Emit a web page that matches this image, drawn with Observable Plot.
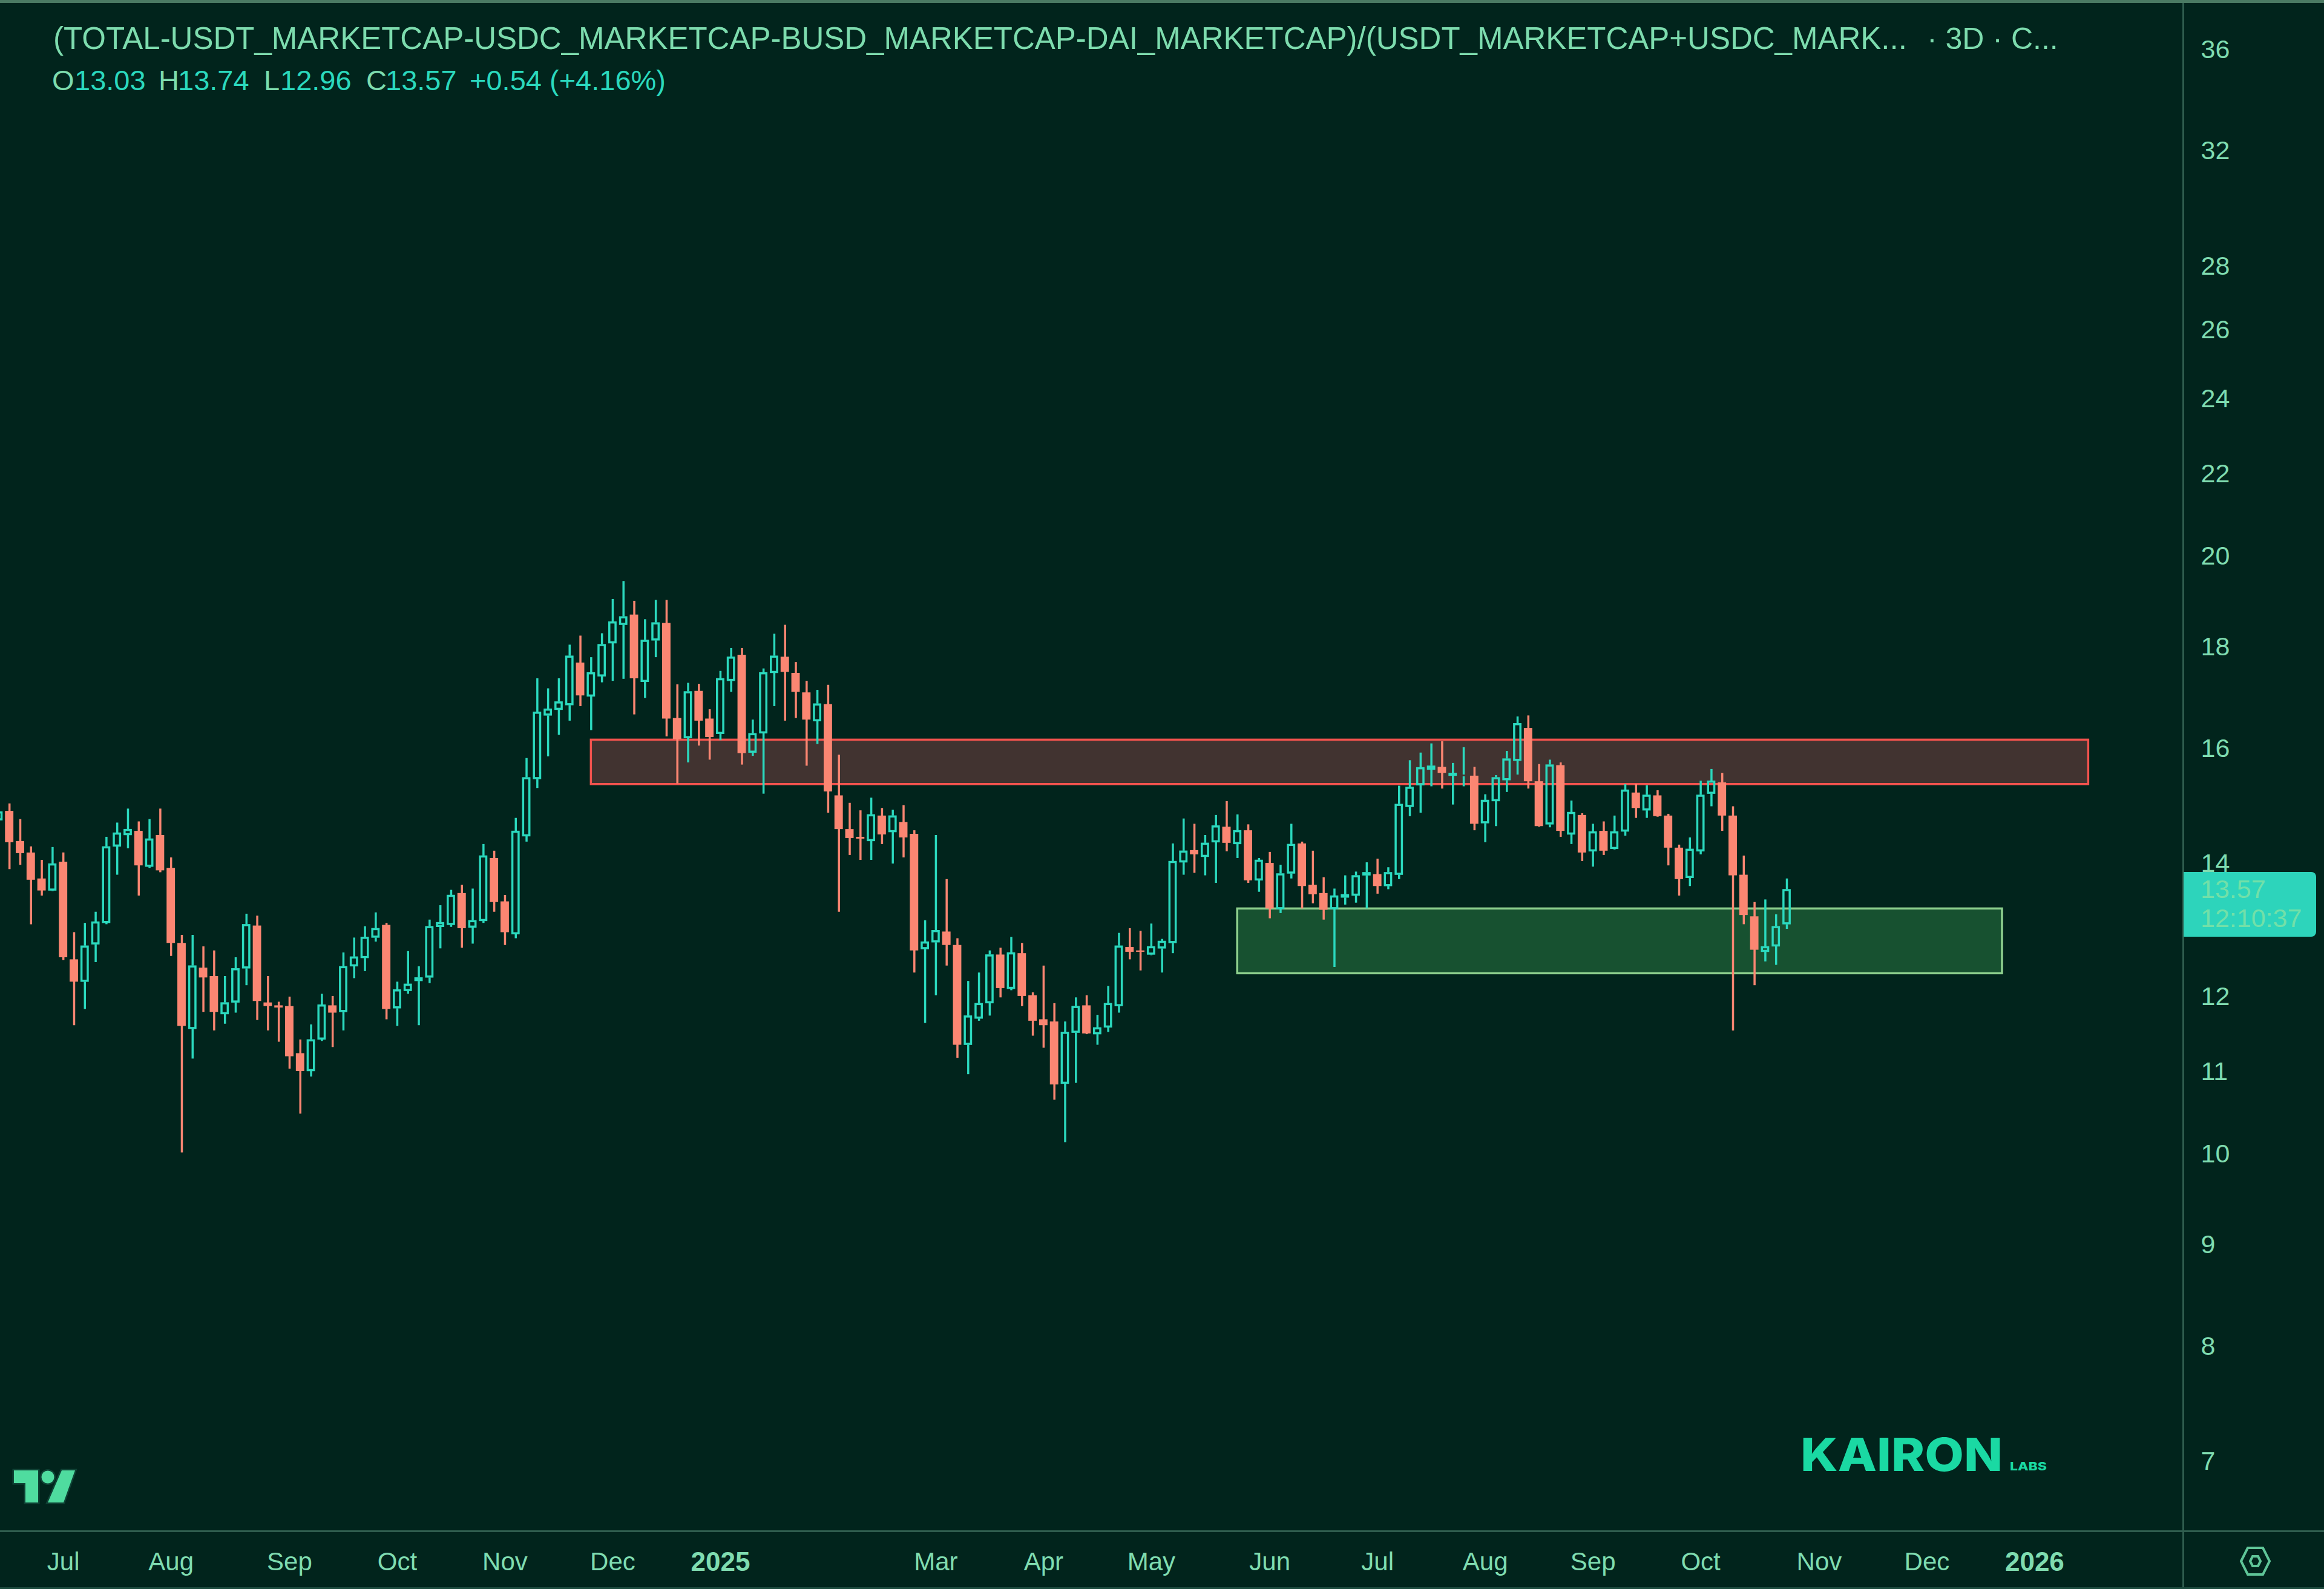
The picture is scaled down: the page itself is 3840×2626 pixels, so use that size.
<!doctype html>
<html>
<head>
<meta charset="utf-8">
<script src="https://cdn.jsdelivr.net/npm/d3@7"></script>
<script src="https://cdn.jsdelivr.net/npm/@observablehq/plot@0.6"></script>
<style>
html,body{margin:0;padding:0;background:#01241c;}
#page{position:relative;width:3840px;height:2626px;overflow:hidden;background:#01241c;font-family:"Liberation Sans",sans-serif;}
#page svg{display:block;}
.abs{position:absolute;white-space:pre;}
</style>
</head>
<body>
<div id="page"></div>
<script>
// Direction of each three-day bar: T = rising (hollow), S = falling (filled)
const directions = (
  "TSSSSTSSTT" + "TTTSTSSSTS" + "STTTSSSSST" + "TSTTTTSTTT" + "TTTSTTSSTT" +
  "TTTTSTTTTS" + "TTSSTSSTTS" + "TTTSSSTSSS" + "STSTSSTTSS" + "TTTSTSSSST" +
  "TSTTTSSTTT" + "TSTTSTSTST" + "TSSSTTTTST" + "TTTTSTTSTT" + "TTSSTSTSTS" +
  "TTSTSSSTTT" + "SSSSTTT").split("");

const highs = [
  14.92,14.99,14.72,14.26,14.04,14.25,14.16,12.91,13.05,13.22,
  14.42,14.66,14.90,14.68,14.72,14.90,14.08,12.87,12.87,12.70,
  12.64,12.27,12.54,13.19,13.16,12.27,11.91,11.98,11.40,11.60,
  12.02,11.99,12.61,12.83,13.00,13.21,13.05,12.19,12.63,12.41,
  13.10,13.32,13.56,13.64,13.58,14.30,14.19,13.48,14.74,15.80,
  17.33,17.13,17.33,18.02,18.21,17.76,18.26,19.00,19.40,18.96,
  18.56,18.98,18.98,17.21,17.24,17.22,16.72,17.48,17.95,17.95,
  16.52,17.53,18.25,18.44,17.66,17.28,17.10,17.20,15.86,15.00,
  14.87,15.09,14.91,14.88,14.96,14.53,13.09,14.45,13.73,12.82,
  12.20,12.32,12.64,12.68,12.84,12.75,12.04,12.42,11.89,11.64,
  11.97,12.00,11.73,12.13,12.90,12.97,12.93,13.04,12.81,14.31,
  14.73,14.64,14.45,14.79,15.03,14.80,14.63,14.07,14.17,13.96,
  14.64,14.34,14.19,13.76,13.58,13.79,13.85,14.00,14.06,13.92,
  15.30,15.76,15.90,16.07,16.11,15.71,16.00,15.64,15.15,15.49,
  15.93,16.58,16.60,15.69,15.77,15.72,15.04,14.82,14.64,14.68,
  14.78,15.33,15.33,15.31,15.22,14.81,14.29,14.41,15.39,15.60,
  15.53,14.94,14.11,13.37,13.41,13.18,13.74];

const bodyTops = [
  14.85,14.86,14.35,14.16,13.74,13.98,14.01,12.51,12.71,13.07,
  14.26,14.49,14.55,14.52,14.39,14.45,13.91,12.75,12.42,12.39,
  12.27,11.90,12.38,13.03,13.01,11.90,11.86,11.85,11.22,11.40,
  11.87,11.86,12.41,12.55,12.84,12.97,13.02,12.08,12.16,12.25,
  13.00,13.06,13.48,13.51,13.09,14.11,14.07,13.38,14.52,15.45,
  16.67,16.73,16.87,17.79,17.65,17.45,18.03,18.51,18.62,18.66,
  18.12,18.49,18.48,16.55,17.07,17.08,16.54,17.33,17.77,17.81,
  16.26,17.45,17.79,17.77,17.44,17.05,16.83,16.82,15.13,14.55,
  14.42,14.80,14.78,14.78,14.67,14.47,12.77,12.94,12.92,12.72,
  11.72,11.89,12.58,12.58,12.61,12.60,12.00,11.67,11.64,11.50,
  11.85,11.86,11.56,11.89,12.71,12.69,12.64,12.70,12.78,14.02,
  14.19,14.20,14.32,14.61,14.59,14.53,14.53,14.04,13.99,13.82,
  14.30,14.31,13.64,13.51,13.47,13.49,13.79,13.84,13.81,13.84,
  14.98,15.28,15.63,15.66,15.64,15.53,15.50,15.48,15.05,15.45,
  15.79,16.45,16.36,15.38,15.68,15.67,14.84,14.79,14.51,14.52,
  14.51,15.23,15.18,15.14,15.13,14.78,14.24,14.22,15.14,15.39,
  15.36,14.78,13.80,13.15,12.70,13.00,13.57];

const bodyBottoms = [
  14.70,14.33,14.15,13.72,13.55,13.55,12.54,12.19,12.19,12.73,
  13.05,14.26,14.45,13.95,13.93,13.87,12.75,11.58,11.54,12.25,
  11.77,11.74,11.90,12.38,11.92,11.85,11.83,11.18,10.99,10.99,
  11.40,11.76,11.77,12.41,12.53,12.83,11.81,11.82,12.06,12.20,
  12.25,12.99,13.02,12.97,12.98,13.08,13.37,12.91,12.88,14.43,
  15.42,16.60,16.71,16.80,16.99,16.97,17.37,18.05,18.44,17.33,
  17.26,18.11,16.54,16.15,16.17,16.50,16.19,16.25,17.28,15.89,
  15.90,16.26,17.44,17.46,17.06,16.52,16.49,15.20,14.55,14.40,
  14.39,14.35,14.46,14.50,14.41,12.64,12.66,12.76,12.72,11.33,
  11.33,11.68,11.89,12.10,12.09,11.99,11.65,11.59,10.82,10.83,
  11.49,11.48,11.47,11.56,11.85,12.62,12.62,12.58,12.67,12.75,
  14.00,14.13,14.09,14.33,14.32,14.30,13.71,13.71,13.27,13.26,
  13.82,13.62,13.49,13.25,13.26,13.44,13.47,13.79,13.62,13.62,
  13.80,14.93,15.31,15.59,15.53,15.48,15.47,14.64,14.65,15.03,
  15.40,15.75,15.38,14.60,14.63,14.52,14.46,14.16,14.18,14.19,
  14.22,14.51,14.91,14.87,14.77,14.24,13.73,13.75,14.18,15.16,
  14.78,13.79,13.17,12.65,12.62,12.70,13.03];

const lows = [
  14.64,13.89,13.96,13.03,13.47,13.54,12.50,11.59,11.81,12.47,
  13.03,13.80,14.23,13.47,13.91,13.84,12.56,10.00,11.15,11.77,
  11.52,11.61,11.76,12.14,11.66,11.52,11.37,11.02,10.46,10.92,
  11.38,11.30,11.52,12.24,12.34,12.77,11.67,11.58,12.02,11.59,
  12.17,12.67,12.99,12.68,12.74,13.05,13.22,12.72,12.82,14.34,
  15.26,15.83,16.23,16.50,16.78,16.32,17.25,17.28,17.32,16.62,
  16.94,17.76,16.20,15.34,15.72,16.03,15.77,16.13,17.06,15.68,
  15.84,15.16,16.78,16.50,16.55,15.66,16.06,14.83,13.22,14.12,
  14.04,14.04,14.30,13.98,14.08,12.32,11.62,12.00,12.42,11.16,
  10.95,11.65,11.72,11.97,12.07,11.85,11.45,11.29,10.63,10.12,
  10.84,11.47,11.33,11.50,11.76,12.51,12.35,12.57,12.32,12.60,
  13.80,13.83,13.79,13.67,14.18,14.07,13.67,13.53,13.12,13.20,
  13.74,13.27,13.35,13.10,12.40,13.33,13.36,13.27,13.50,13.57,
  13.73,14.77,14.83,15.29,15.25,14.97,15.29,14.53,14.33,14.60,
  15.19,15.50,15.25,14.59,14.58,14.42,14.30,14.02,13.93,14.12,
  14.21,14.44,14.74,14.74,14.76,13.95,13.47,13.62,14.13,14.94,
  14.52,11.52,13.03,12.14,12.48,12.43,12.96];

const priceTicks = [7,8,9,10,11,12,14,16,18,20,22,24,26,28,32,36];
const monthBars = [6,16,27,37,47,57,87,97,107,118,128,138,148,158,169,179];
const monthLabels = ["Jul","Aug","Sep","Oct","Nov","Dec","Mar","Apr","May","Jun","Jul","Aug","Sep","Oct","Nov","Dec"];
const yearBars = [67,189];
const yearLabels = ["2025","2026"];

const resistanceZone = {start:55,end:194,top:16.14,bottom:15.33};
const supportZone = {start:115,end:186,top:13.27,bottom:12.31};

const titleText = "(TOTAL-USDT_MARKETCAP-USDC_MARKETCAP-BUSD_MARKETCAP-DAI_MARKETCAP)/(USDT_MARKETCAP+USDC_MARK...";
const titleSuffix = "· 3D · C...";
const ohlc = [["O","13.03"],["H","13.74"],["L","12.96"],["C","13.57"]];
const changeText = "+0.54 (+4.16%)";
const lastPrice = "13.57";
const countdown = "12:10:37";

const UP = "#2bd9be", DOWN = "#fb8672", INK = "#7fdcb0", LINE = "#2f5d4e";

const bars = directions.map((d,i)=>({i,rising:d==="T",high:highs[i],top:bodyTops[i],bottom:bodyBottoms[i],low:lows[i]}));
const rising = bars.filter(b=>b.rising), falling = bars.filter(b=>!b.rising);

const chart = Plot.plot({
  width:3840, height:2626,
  marginLeft:0, marginTop:0, marginRight:233, marginBottom:96,
  style:{background:"#01241c",fontFamily:"'Liberation Sans',sans-serif",fontSize:"42px",overflow:"hidden"},
  x:{type:"linear",domain:[0.146,202.8]},
  y:{type:"log",domain:[6.447,38.06]},
  marks:[
    Plot.rect([resistanceZone],{x1:"start",x2:"end",y1:"bottom",y2:"top",fill:"#413330",stroke:"#f2534e",strokeWidth:3.5}),
    Plot.rect([supportZone],{x1:"start",x2:"end",y1:"bottom",y2:"top",fill:"#175130",stroke:"#8ed08e",strokeWidth:3.5}),
    Plot.ruleX(rising,{x:"i",y1:"high",y2:"top",stroke:UP,strokeWidth:3.5}),
    Plot.ruleX(rising,{x:"i",y1:"bottom",y2:"low",stroke:UP,strokeWidth:3.5}),
    Plot.rect(rising,{x1:d=>d.i-0.29,x2:d=>d.i+0.29,y1:"bottom",y2:"top",insetTop:1.5,insetBottom:1.5,fill:"none",stroke:UP,strokeWidth:3.5}),
    Plot.ruleX(falling,{x:"i",y1:"high",y2:"low",stroke:DOWN,strokeWidth:3.5}),
    Plot.rect(falling,{x1:d=>d.i-0.39,x2:d=>d.i+0.39,y1:"bottom",y2:"top",fill:DOWN}),
    Plot.ruleX([202.8],{stroke:LINE,strokeWidth:3,insetBottom:-96}),
    Plot.ruleY([6.447],{stroke:LINE,strokeWidth:3,insetRight:-233}),
    Plot.axisY({anchor:"right",ticks:priceTicks,tickFormat:d=>String(d),tickSize:0,tickPadding:29,dy:2,fill:INK,fontSize:43,label:null}),
    Plot.axisX({anchor:"bottom",ticks:monthBars,tickFormat:d=>monthLabels[monthBars.indexOf(d)],tickSize:0,tickPadding:35,fill:INK,fontSize:42,label:null}),
    Plot.axisX({anchor:"bottom",ticks:yearBars,tickFormat:d=>yearLabels[yearBars.indexOf(d)],tickSize:0,tickPadding:34,fill:INK,fontSize:44,fontWeight:"bold",label:null})
  ]
});
const page = document.getElementById("page");
page.appendChild(chart);

function addText(text,left,centerY,size,color,extra){
  const el = document.createElement("div");
  el.className = "abs";
  el.textContent = text;
  el.style.cssText += `left:${left}px;top:${centerY-size*0.6}px;line-height:${size*1.2}px;font-size:${size}px;color:${color};` + (extra||"");
  page.appendChild(el);
  return el;
}
const strip = (css)=>{const e=document.createElement("div");e.className="abs";e.style.cssText+=css;page.appendChild(e);};
strip("left:0;top:0;width:3840px;height:5px;background:#4a7a63;");
strip("left:0;top:2623px;width:3840px;height:3px;background:#1c4a3d;");

addText(titleText,88,64,51,"#7ddcae");
addText(titleSuffix,3184,64,50,"#7ddcae");

// OHLC legend row
const ox = 86;
ohlc.forEach(([k,v],n)=>{
  addText(k,ox+[0,176,350,519][n],133,47,"#7ddcae");
  addText(v,ox+[37,208,377,551][n],133,47,UP);
});
addText(changeText,776,133,47,UP);

// last price tag
strip("left:3608px;top:1441px;width:219px;height:107px;background:#2dd4bb;border-radius:0 8px 8px 0;");
addText(lastPrice,3636,1470,43,"#72e0a8");
addText(countdown,3636,1518,43,"#72e0a8");

// logos and settings icon
const overlay = document.createElementNS("http://www.w3.org/2000/svg","svg");
overlay.setAttribute("width",3840);overlay.setAttribute("height",2626);
overlay.style.cssText="position:absolute;left:0;top:0;";
overlay.innerHTML = `
<g fill="#4fdc9f" stroke="#0f4235" stroke-width="5" paint-order="stroke">
 <path d="M23 2430H63V2483H42V2451H23Z"/>
 <circle cx="79" cy="2441" r="10.5"/>
 <path d="M102 2430H124L105 2483H79Z"/>
</g>
<g fill="none" stroke="#5fc598" stroke-width="4">
 <path d="M3703 2580L3714 2558H3739L3750 2580L3739 2602H3714Z"/>
 <path d="M3718 2580L3722 2572H3731L3735 2580L3731 2588H3722Z"/>
</g>
<text x="2975" y="2431" font-family="Inter" font-weight="800" font-size="76" fill="#1ad9a3" textLength="334" lengthAdjust="spacingAndGlyphs">KAIRON</text>
<text x="3321" y="2430" font-family="Inter" font-weight="800" font-size="19" fill="#1ad9a3" textLength="61" lengthAdjust="spacingAndGlyphs">LABS</text>`;
page.appendChild(overlay);
</script>
</body>
</html>
